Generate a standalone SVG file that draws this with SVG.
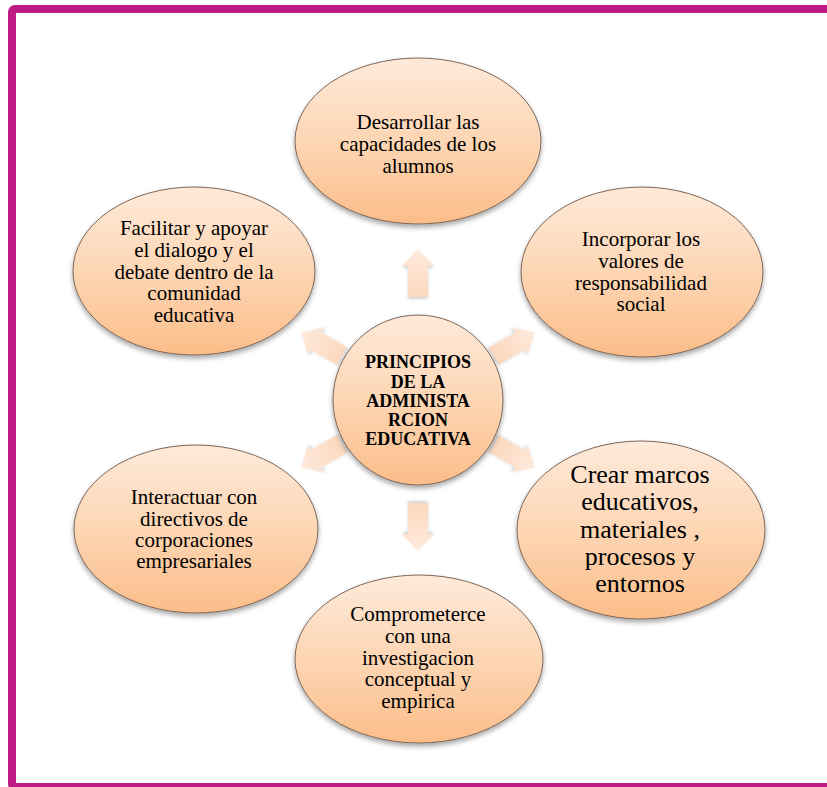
<svg xmlns="http://www.w3.org/2000/svg" xmlns:xlink="http://www.w3.org/1999/xlink" width="827" height="787" viewBox="0 0 827 787">
<style>
.node{fill:url(#gNode);stroke:#7d6657;stroke-width:1;filter:url(#sh)}
.t{font-family:"Liberation Serif","Times New Roman",serif;font-size:21px;fill:#000;text-anchor:middle}
.tb{font-family:"Liberation Serif","Times New Roman",serif;font-size:18px;font-weight:bold;fill:#000;text-anchor:middle}
.tl{font-family:"Liberation Serif","Times New Roman",serif;font-size:26px;fill:#000;text-anchor:middle}
.arr{fill:url(#gArr);filter:url(#sh2)}
</style>
<defs>
<linearGradient id="gNode" x1="0" y1="0" x2="0" y2="1">
<stop offset="0" stop-color="#FEEADA"/>
<stop offset="0.5" stop-color="#FDD6B4"/>
<stop offset="1" stop-color="#FBBD89"/>
</linearGradient>
<linearGradient id="gArr" x1="0" y1="0" x2="0" y2="1">
<stop offset="0" stop-color="#FEEADD"/>
<stop offset="1" stop-color="#FCD8BD"/>
</linearGradient>
<filter id="sh" x="-20%" y="-20%" width="140%" height="150%">
<feDropShadow dx="0" dy="3" stdDeviation="2.5" flood-color="#000" flood-opacity="0.35"/>
</filter>
<filter id="sh2" x="-40%" y="-40%" width="180%" height="180%">
<feDropShadow dx="0" dy="2" stdDeviation="1.5" flood-color="#000" flood-opacity="0.18"/>
</filter>
<path id="arrV" d="M0,-151 L16,-134 L10,-134 L10,-103 L-10,-103 L-10,-134 L-16,-134 Z"/>
<path id="arrD" d="M0,-135 L16,-118 L10,-118 L10,-88 L-10,-88 L-10,-118 L-16,-118 Z"/>
</defs>
<rect x="12" y="9" width="830" height="778" rx="3" fill="#fff" stroke="#BE1A83" stroke-width="8"/>
<g id="connectors">
<use xlink:href="#arrV" class="arr" transform="translate(418,400) rotate(0)"/>
<use xlink:href="#arrD" class="arr" transform="translate(418,400) rotate(60)"/>
<use xlink:href="#arrD" class="arr" transform="translate(418,400) rotate(120)"/>
<use xlink:href="#arrV" class="arr" transform="translate(418,400) rotate(180)"/>
<use xlink:href="#arrD" class="arr" transform="translate(418,400) rotate(240)"/>
<use xlink:href="#arrD" class="arr" transform="translate(418,400) rotate(300)"/>
</g>
<g id="center">
<circle class="node" cx="418" cy="400" r="85"/>
<text class="tb" x="418" y="368">PRINCIPIOS</text>
<text class="tb" x="418" y="387.5">DE LA</text>
<text class="tb" x="418" y="406.5">ADMINISTA</text>
<text class="tb" x="418" y="426">RCION</text>
<text class="tb" x="418" y="445">EDUCATIVA</text>
</g>
<g id="n-top">
<ellipse class="node" cx="418" cy="141" rx="123" ry="83"/>
<text class="t" x="418" y="129">Desarrollar las</text>
<text class="t" x="418" y="151">capacidades de los</text>
<text class="t" x="418" y="173">alumnos</text>
</g>
<g id="n-upright">
<ellipse class="node" cx="642" cy="272" rx="121" ry="85"/>
<text class="t" x="641" y="246">Incorporar los</text>
<text class="t" x="641" y="268">valores de</text>
<text class="t" x="641" y="290">responsabilidad</text>
<text class="t" x="641" y="311">social</text>
</g>
<g id="n-lowright">
<ellipse class="node" cx="641" cy="530" rx="124" ry="89"/>
<text class="tl" x="640" y="483">Crear marcos</text>
<text class="tl" x="640" y="510">educativos,</text>
<text class="tl" x="640" y="537.5">materiales ,</text>
<text class="tl" x="640" y="565">procesos y</text>
<text class="tl" x="640" y="592">entornos</text>
</g>
<g id="n-bottom">
<ellipse class="node" cx="419" cy="659" rx="124" ry="84"/>
<text class="t" x="418" y="621">Comprometerce</text>
<text class="t" x="418" y="643">con una</text>
<text class="t" x="418" y="665">investigacion</text>
<text class="t" x="418" y="686">conceptual y</text>
<text class="t" x="418" y="708">empirica</text>
</g>
<g id="n-lowleft">
<ellipse class="node" cx="196" cy="529" rx="122" ry="84"/>
<text class="t" x="194" y="504">Interactuar con</text>
<text class="t" x="194" y="525.5">directivos de</text>
<text class="t" x="194" y="547">corporaciones</text>
<text class="t" x="194" y="568">empresariales</text>
</g>
<g id="n-upleft">
<ellipse class="node" cx="194" cy="271" rx="121" ry="84"/>
<text class="t" x="194" y="235">Facilitar y apoyar</text>
<text class="t" x="194" y="257">el dialogo y el</text>
<text class="t" x="194" y="279">debate dentro de la</text>
<text class="t" x="194" y="300">comunidad</text>
<text class="t" x="194" y="322">educativa</text>
</g>
</svg>
